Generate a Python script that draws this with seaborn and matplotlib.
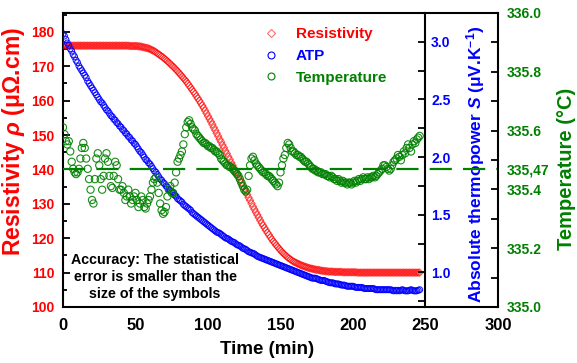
import numpy as np
import matplotlib
matplotlib.use("Agg")
import matplotlib.pyplot as plt
from matplotlib.lines import Line2D
from matplotlib.ticker import MultipleLocator, FixedLocator
import seaborn as sns

# ---- data -------------------------------------------------------------
time_min = np.arange(0, 247, 1)  # one reading per minute

resistivity = [
    176.1, 176.1, 176.1, 176.0, 176.0, 176.0, 176.0, 176.0, 176.0, 176.0,
    176.0, 176.0, 176.0, 176.0, 176.0, 176.0, 176.0, 176.0, 176.0, 176.0,
    176.0, 176.0, 176.0, 176.0, 176.0, 176.0, 176.0, 176.0, 176.0, 176.0,
    176.0, 176.0, 176.0, 176.0, 176.0, 176.0, 176.0, 176.0, 176.0, 176.0,
    176.0, 176.0, 176.0, 176.0, 176.0, 176.0, 175.9, 175.9, 175.9, 175.9,
    175.9, 175.9, 175.8, 175.8, 175.7, 175.6, 175.5, 175.4, 175.3, 175.2,
    175.0, 174.8, 174.6, 174.4, 174.1, 173.8, 173.5, 173.2, 172.9, 172.6,
    172.2, 171.9, 171.5, 171.1, 170.7, 170.3, 169.9, 169.5, 169.0, 168.6,
    168.1, 167.6, 167.1, 166.6, 166.1, 165.6, 165.0, 164.4, 163.8, 163.2,
    162.6, 162.0, 161.3, 160.7, 160.0, 159.3, 158.6, 157.9, 157.1, 156.3,
    155.5, 154.7, 153.9, 153.1, 152.2, 151.4, 150.5, 149.7, 148.8, 148.0,
    147.1, 146.3, 145.4, 144.6, 143.7, 142.9, 142.0, 141.2, 140.3, 139.5,
    138.6, 137.8, 136.9, 136.1, 135.2, 134.4, 133.5, 132.7, 131.8, 131.0,
    130.1, 129.2, 128.4, 127.6, 126.8, 126.0, 125.2, 124.4, 123.7, 123.0,
    122.3, 121.6, 121.0, 120.3, 119.7, 119.1, 118.6, 118.0, 117.5, 117.0,
    116.5, 116.0, 115.6, 115.2, 114.8, 114.4, 114.1, 113.8, 113.5, 113.2,
    113.0, 112.8, 112.6, 112.4, 112.2, 112.0, 111.9, 111.7, 111.6, 111.4,
    111.3, 111.2, 111.1, 111.0, 110.9, 110.8, 110.8, 110.7, 110.6, 110.5,
    110.5, 110.4, 110.4, 110.3, 110.3, 110.3, 110.3, 110.2, 110.2, 110.2,
    110.2, 110.2, 110.2, 110.1, 110.1, 110.1, 110.1, 110.1, 110.1, 110.1,
    110.1, 110.1, 110.1, 110.0, 110.0, 110.0, 110.0, 110.0, 110.0, 110.0,
    110.0, 110.0, 110.0, 110.0, 110.0, 110.0, 110.0, 110.0, 110.0, 110.0,
    110.0, 110.0, 110.0, 110.0, 110.0, 110.0, 110.0, 110.0, 110.0, 110.0,
    110.0, 110.0, 110.0, 110.0, 110.0, 110.0, 110.0, 110.0, 110.0, 110.0,
    110.0, 110.0, 110.0, 110.0, 110.0, 110.0, 110.0,
]

atp = [
    3.07, 3.05, 3.02, 2.99, 2.97, 2.94, 2.92, 2.89, 2.87, 2.84,
    2.82, 2.79, 2.77, 2.75, 2.73, 2.71, 2.69, 2.66, 2.64, 2.62,
    2.60, 2.58, 2.56, 2.54, 2.52, 2.50, 2.48, 2.47, 2.45, 2.43,
    2.41, 2.40, 2.38, 2.36, 2.35, 2.33, 2.32, 2.30, 2.29, 2.27,
    2.26, 2.24, 2.23, 2.21, 2.20, 2.18, 2.17, 2.15, 2.14, 2.12,
    2.11, 2.09, 2.07, 2.05, 2.04, 2.02, 2.00, 1.98, 1.97, 1.95,
    1.94, 1.92, 1.90, 1.88, 1.87, 1.85, 1.83, 1.81, 1.80, 1.78,
    1.77, 1.75, 1.74, 1.72, 1.71, 1.70, 1.69, 1.67, 1.66, 1.64,
    1.63, 1.62, 1.61, 1.59, 1.58, 1.57, 1.56, 1.55, 1.54, 1.52,
    1.51, 1.50, 1.49, 1.48, 1.47, 1.46, 1.45, 1.44, 1.43, 1.42,
    1.41, 1.40, 1.39, 1.38, 1.37, 1.36, 1.35, 1.345, 1.34, 1.33,
    1.32, 1.31, 1.30, 1.295, 1.29, 1.28, 1.27, 1.265, 1.26, 1.25,
    1.24, 1.235, 1.23, 1.22, 1.21, 1.205, 1.20, 1.19, 1.18, 1.175,
    1.17, 1.165, 1.16, 1.15, 1.14, 1.135, 1.13, 1.125, 1.12, 1.115,
    1.11, 1.105, 1.10, 1.095, 1.09, 1.085, 1.08, 1.075, 1.07, 1.065,
    1.06, 1.055, 1.05, 1.045, 1.04, 1.035, 1.03, 1.025, 1.02, 1.015,
    1.01, 1.005, 1.00, 0.995, 0.99, 0.985, 0.98, 0.975, 0.97, 0.965,
    0.96, 0.955, 0.95, 0.95, 0.95, 0.945, 0.94, 0.935, 0.93, 0.93,
    0.93, 0.925, 0.92, 0.915, 0.91, 0.91, 0.91, 0.905, 0.90, 0.90,
    0.90, 0.895, 0.89, 0.89, 0.89, 0.885, 0.88, 0.88, 0.88, 0.88,
    0.88, 0.875, 0.87, 0.87, 0.87, 0.87, 0.87, 0.865, 0.86, 0.86,
    0.86, 0.86, 0.86, 0.86, 0.86, 0.855, 0.85, 0.85, 0.85, 0.85,
    0.85, 0.85, 0.85, 0.85, 0.85, 0.85, 0.85, 0.845, 0.84, 0.845,
    0.84, 0.845, 0.84, 0.845, 0.85, 0.845, 0.84, 0.84, 0.84, 0.845,
    0.85, 0.845, 0.84, 0.84, 0.84, 0.845, 0.85,
]

temperature = [
    335.611, 335.588, 335.564, 335.553, 335.564, 335.529, 335.494, 335.470, 335.458, 335.452,
    335.458, 335.470, 335.505, 335.541, 335.558, 335.541, 335.505, 335.470, 335.435, 335.399,
    335.364, 335.352, 335.435, 335.505, 335.523, 335.482, 335.435, 335.399, 335.446, 335.505,
    335.523, 335.494, 335.446, 335.411, 335.405, 335.446, 335.494, 335.482, 335.435, 335.399,
    335.399, 335.411, 335.388, 335.364, 335.376, 335.399, 335.376, 335.352, 335.364, 335.376,
    335.388, 335.364, 335.340, 335.352, 335.376, 335.364, 335.340, 335.335, 335.352, 335.364,
    335.376, 335.399, 335.423, 335.435, 335.441, 335.423, 335.388, 335.352, 335.329, 335.317,
    335.323, 335.340, 335.376, 335.399, 335.411, 335.388, 335.388, 335.423, 335.458, 335.494,
    335.505, 335.517, 335.529, 335.553, 335.588, 335.611, 335.629, 335.635, 335.623, 335.611,
    335.605, 335.600, 335.588, 335.582, 335.576, 335.570, 335.564, 335.558, 335.558, 335.553,
    335.547, 335.547, 335.541, 335.541, 335.535, 335.529, 335.529, 335.523, 335.517, 335.505,
    335.499, 335.494, 335.488, 335.482, 335.482, 335.476, 335.476, 335.470, 335.464, 335.458,
    335.452, 335.446, 335.435, 335.423, 335.411, 335.399, 335.393, 335.399, 335.446, 335.482,
    335.505, 335.511, 335.499, 335.488, 335.482, 335.476, 335.470, 335.464, 335.458, 335.458,
    335.452, 335.446, 335.446, 335.441, 335.435, 335.429, 335.423, 335.417, 335.411, 335.423,
    335.458, 335.482, 335.505, 335.517, 335.541, 335.558, 335.553, 335.541, 335.529, 335.529,
    335.523, 335.517, 335.517, 335.511, 335.511, 335.505, 335.499, 335.494, 335.494, 335.488,
    335.482, 335.476, 335.470, 335.470, 335.464, 335.464, 335.458, 335.458, 335.458, 335.452,
    335.452, 335.452, 335.446, 335.446, 335.441, 335.446, 335.441, 335.435, 335.435, 335.429,
    335.435, 335.429, 335.423, 335.429, 335.423, 335.423, 335.417, 335.423, 335.423, 335.417,
    335.423, 335.429, 335.423, 335.429, 335.435, 335.429, 335.435, 335.441, 335.435, 335.435,
    335.441, 335.435, 335.441, 335.441, 335.446, 335.441, 335.446, 335.452, 335.458, 335.464,
    335.470, 335.482, 335.482, 335.476, 335.470, 335.464, 335.470, 335.482, 335.494, 335.499,
    335.505, 335.517, 335.511, 335.499, 335.517, 335.529, 335.523, 335.541, 335.553, 335.541,
    335.529, 335.553, 335.564, 335.558, 335.570, 335.576, 335.582,
]

temp_mean = 335.47

x_ticks = [0, 50, 100, 150, 200, 250, 300]
rho_ticks = [100, 110, 120, 130, 140, 150, 160, 170, 180]
atp_ticks = [1.0, 1.5, 2.0, 2.5, 3.0]
temp_ticks = [335.0, 335.2, 335.4, 335.47, 335.6, 335.8, 336.0]
temp_tick_labels = ["335.0", "335.2", "335.4", "335,47", "335.6", "335.8", "336.0"]

RED = "#ff0000"
BLUE = "#0000ff"
GREEN = "#008000"

# ---- style ------------------------------------------------------------
sns.set_theme(style="white")
plt.rcParams["font.family"] = ["Liberation Sans", "DejaVu Sans"]
plt.rcParams["font.weight"] = "bold"
plt.rcParams["mathtext.fontset"] = "custom"
plt.rcParams["mathtext.rm"] = "Liberation Sans:bold"
plt.rcParams["mathtext.it"] = "Liberation Sans:italic:bold"
plt.rcParams["mathtext.bf"] = "Liberation Sans:bold"

fig = plt.figure(figsize=(5.77, 3.63), dpi=100)
ax = fig.add_axes([63 / 577, 1 - 307 / 363, 435 / 577, 294 / 363])
ax2 = ax.twinx()
ax3 = ax.twinx()

# ---- series -----------------------------------------------------------
sns.scatterplot(x=time_min, y=resistivity, ax=ax, marker="D", s=14,
                color=RED, facecolor="none", edgecolor=(1, 0.0, 0.0, 0.7),
                linewidth=0.7, legend=False, zorder=3)
sns.scatterplot(x=time_min, y=atp, ax=ax2, marker="o", s=18,
                color=BLUE, facecolor="none", edgecolor=(0.0, 0.0, 1.0, 0.9),
                linewidth=0.75, legend=False, zorder=3)
sns.scatterplot(x=time_min, y=temperature, ax=ax3, marker="o", s=27,
                color=GREEN, facecolor="none", edgecolor=(0.0, 0.5, 0.0, 0.9),
                linewidth=0.8, legend=False, zorder=3)
ax3.axhline(temp_mean, color=GREEN, lw=1.6, dashes=(10, 5), zorder=2)

# ---- axes -------------------------------------------------------------
ax.set_xlim(0, 300)
ax.set_ylim(100, 185.5)
ax2.set_ylim(0.7, 3.25)
ax3.set_ylim(335.0, 336.0)

for a in (ax, ax2, ax3):
    for s in a.spines.values():
        s.set_color("black")
        s.set_linewidth(1.5)
for s in ("left", "top", "bottom"):
    ax2.spines[s].set_visible(False)
    ax3.spines[s].set_visible(False)
ax.spines["right"].set_visible(False)
ax2.spines["right"].set_position(("data", 250))

ax.set_xticks(x_ticks)
ax.xaxis.set_minor_locator(MultipleLocator(25))
ax.set_yticks(rho_ticks)
ax.yaxis.set_minor_locator(MultipleLocator(5))
ax.tick_params(axis="both", which="both", direction="in", top=False, right=False,
               color="black", width=1.3)
ax.tick_params(axis="both", which="major", length=5)
ax.tick_params(axis="both", which="minor", length=3)
ax.tick_params(axis="x", labelsize=12, labelcolor="black", pad=8)
ax.tick_params(axis="y", labelsize=10, labelcolor=RED, pad=6)
for lab in ax.get_xticklabels() + ax.get_yticklabels():
    lab.set_fontweight("bold")

ax2.set_yticks(atp_ticks)
ax2.yaxis.set_minor_locator(MultipleLocator(0.25))
ax2.tick_params(axis="y", which="both", direction="in", color="black", width=1.3,
                labelsize=10, labelcolor=BLUE, pad=4)
ax2.tick_params(axis="y", which="major", length=5)
ax2.tick_params(axis="y", which="minor", length=5)
for lab in ax2.get_yticklabels():
    lab.set_fontweight("bold")

ax3.set_yticks(temp_ticks)
ax3.set_yticklabels(temp_tick_labels)
ax3.yaxis.set_minor_locator(FixedLocator([335.1, 335.3, 335.5, 335.7, 335.9]))
ax3.tick_params(axis="y", which="both", direction="in", color="black", width=1.3,
                length=5, labelsize=10, labelcolor=GREEN, pad=6)
for tick, val in zip(ax3.yaxis.get_major_ticks(), temp_ticks):
    if val == temp_mean:
        tick.tick2line.set_visible(False)
for lab in ax3.get_yticklabels():
    lab.set_fontweight("bold")

ax.set_xlabel("Time (min)", fontsize=13.5, fontweight="bold", color="black")
ax.xaxis.set_label_coords(0.469, -0.114)
ax.set_ylabel(r"Resistivity $\it{\rho}$ (μΩ.cm)", fontsize=16.5,
              fontweight="bold", color=RED)
ax.yaxis.set_label_coords(-0.083, 0.563)
ax2.set_ylabel(r"Absolute thermopower $\it{S}$ (μV.K$^{\mathrm{-1}}$)",
               fontsize=12.5, fontweight="bold", color=BLUE)
ax2.yaxis.set_label_coords(0.922, 0.486)
ax3.set_ylabel("Temperature (°C)", fontsize=14.5, fontweight="bold", color=GREEN)
ax3.yaxis.set_label_coords(1.136, 0.47)

ax.text(0.2115, 0.102,
        "Accuracy: The statistical\nerror is smaller than the\nsize of the symbols",
        transform=ax.transAxes, ha="center", va="center", fontsize=10.3,
        fontweight="bold", color="black", linespacing=1.25)

handles = [
    Line2D([], [], ls="none", marker="D", ms=4, mfc="none",
           mec=(1, 0.3, 0.3, 0.8), mew=0.8),
    Line2D([], [], ls="none", marker="o", ms=5, mfc="none", mec=BLUE, mew=0.8),
    Line2D([], [], ls="none", marker="o", ms=5, mfc="none", mec=GREEN, mew=0.8),
]
ax3.legend(handles, ["Resistivity", "ATP", "Temperature"],
           loc="upper left", bbox_to_anchor=(0.426, 0.998), frameon=False,
           handlelength=1.2, handletextpad=1.0, labelspacing=0.5,
           prop={"weight": "bold", "size": 11},
           labelcolor=[RED, BLUE, GREEN])

fig.savefig("out.png", dpi=100)
